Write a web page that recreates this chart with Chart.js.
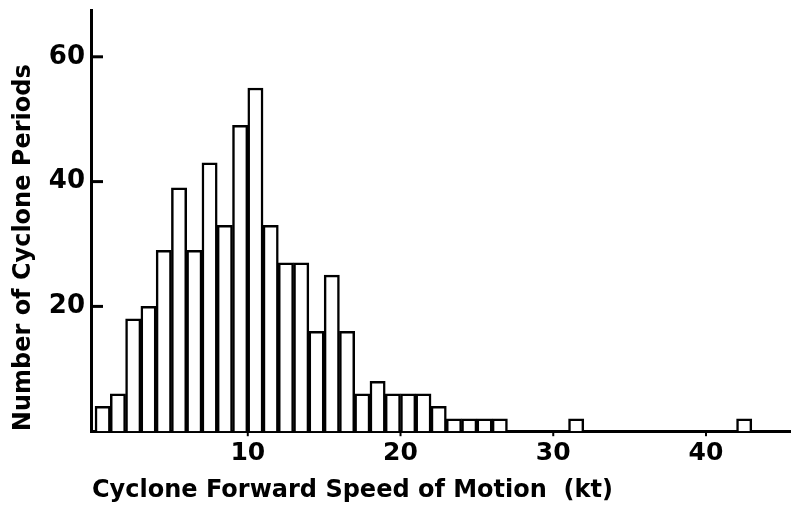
<!DOCTYPE html>
<html>
<head>
<meta charset="utf-8">
<script src="https://cdn.jsdelivr.net/npm/chart.js@4.4.0/dist/chart.umd.min.js"></script>
<style>
  body { margin: 0; background: #ffffff; }
  #grafico { display: block; }
</style>
</head>
<body>
<canvas id="grafico" width="791" height="507"></canvas>
<script>
// inicio de cada classe de 1 kt e contagem de periodos
var velocidades = [0, 1, 2, 3, 4, 5, 6, 7, 8, 9, 10, 11, 12, 13, 14, 15, 16, 17, 18, 19, 20, 21, 22, 23, 24, 25, 26, 31, 42];
var contagens = [4, 6, 18, 20, 29, 39, 29, 43, 33, 49, 55, 33, 27, 27, 16, 25, 16, 6, 8, 6, 6, 6, 4, 2, 2, 2, 2, 2, 2];
var ticksY = [20, 40, 60];
var ticksX = [10, 20, 30, 40];

var fonte = "'DejaVu Sans', sans-serif";

var dadosHist = velocidades.map(function (v, i) {
    return { x: v + 0.5, y: contagens[i] };
});

// marcas dos eixos: para dentro no eixo y, para baixo no eixo x
var marcasEixos = {
    id: 'marcasEixos',
    afterDraw: function (chart) {
        var ctx = chart.ctx;
        var sx = chart.scales.x;
        var sy = chart.scales.y;
        ctx.save();
        ctx.strokeStyle = '#000';
        ctx.lineWidth = 3;
        ticksY.forEach(function (t) {
            var py = sy.getPixelForValue(t);
            ctx.beginPath();
            ctx.moveTo(sx.left, py);
            ctx.lineTo(sx.left + 11, py);
            ctx.stroke();
        });
        ctx.lineWidth = 2;
        ticksX.forEach(function (t) {
            var px = sx.getPixelForValue(t);
            ctx.beginPath();
            ctx.moveTo(px, sy.bottom);
            ctx.lineTo(px, sy.bottom + 5);
            ctx.stroke();
        });
        ctx.restore();
    }
};

new Chart(document.getElementById('grafico'), {
    type: 'bar',
    data: {
        datasets: [{
            data: dadosHist,
            backgroundColor: '#ffffff',
            borderColor: '#000000',
            borderWidth: 2.5,
            borderSkipped: 'bottom',
            barPercentage: 1,
            categoryPercentage: 1
        }]
    },
    options: {
        responsive: false,
        animation: false,
        devicePixelRatio: 1,
        layout: { padding: { left: 9, right: 1, top: 10, bottom: 2 } },
        plugins: {
            legend: { display: false },
            tooltip: { enabled: false }
        },
        scales: {
            x: {
                type: 'linear',
                min: -0.2,
                max: 45.5,
                offset: false,
                grid: { display: false, drawTicks: false },
                border: { display: true, color: '#000', width: 3 },
                ticks: {
                    stepSize: 10,
                    includeBounds: false,
                    color: '#000',
                    padding: 10,
                    maxRotation: 0,
                    font: { family: fonte, size: 25, weight: 'bold', lineHeight: 1 },
                    callback: function (v) { return ticksX.indexOf(v) >= 0 ? String(v) : ''; }
                },
                title: {
                    display: true,
                    text: 'Cyclone Forward Speed of Motion  (kt)',
                    color: '#000',
                    align: 'start',
                    font: { family: fonte, size: 24, weight: 'bold' },
                    padding: { top: 0, bottom: 0 }
                }
            },
            y: {
                min: 0,
                max: 67.5,
                afterFit: function (escala) {
                    escala.paddingTop = 0;
                    escala.paddingBottom = 0;
                },
                grid: { display: false, drawTicks: false },
                border: { display: true, color: '#000', width: 3 },
                ticks: {
                    stepSize: 20,
                    includeBounds: false,
                    color: '#000',
                    padding: 7,
                    font: { family: fonte, size: 26, weight: 'bold' },
                    callback: function (v) { return ticksY.indexOf(v) >= 0 ? String(v) : ''; }
                },
                title: {
                    display: true,
                    text: 'Number of Cyclone Periods',
                    color: '#000',
                    align: 'start',
                    font: { family: fonte, size: 24, weight: 'bold' },
                    padding: { top: 0, bottom: 4 }
                }
            }
        }
    },
    plugins: [marcasEixos]
});
</script>
</body>
</html>
